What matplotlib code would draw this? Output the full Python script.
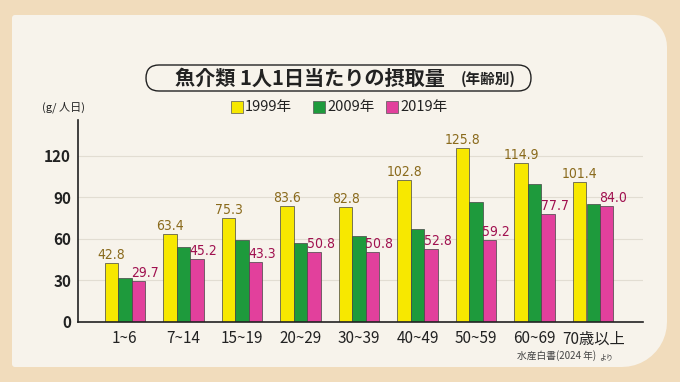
"""
Seafood intake per person per day, by age group.
"""

import numpy as np
import matplotlib
matplotlib.use("Agg")
import matplotlib.pyplot as plt
from matplotlib.patches import FancyBboxPatch, PathPatch, Rectangle
from matplotlib.path import Path

plt.rcParams["font.family"] = ["Noto Sans CJK JP", "DejaVu Sans"]

age_groups = ["1~6", "7~14", "15~19", "20~29", "30~39", "40~49", "50~59", "60~69", "70歳以上"]
intake_1999 = [42.8, 63.4, 75.3, 83.6, 82.8, 102.8, 125.8, 114.9, 101.4]
intake_2009 = [32.0, 54.5, 59.5, 57.3, 62.2, 67.0, 86.5, 100.0, 85.5]
intake_2019 = [29.7, 45.2, 43.3, 50.8, 50.8, 52.8, 59.2, 77.7, 84.0]
series_names = ["1999年", "2009年", "2019年"]
y_ticks = [0, 30, 60, 90, 120]

W, H = 680, 382
OUTER = "#f1dcbc"
PANEL = "#f7f3eb"
YELLOW = "#f7e800"
GREEN = "#1e9a3c"
PINK = "#e2409c"


def rounded_rect_path(x0, y0, x1, y1, radii):
    """Rectangle in pixel coords (y down) with per-corner radii (tl, tr, br, bl)."""
    tl, tr, br, bl = radii
    verts, codes = [], []

    def arc(cx, cy, r, a0, a1):
        for a in np.linspace(np.radians(a0), np.radians(a1), 12):
            verts.append((cx + r * np.cos(a), cy + r * np.sin(a)))
            codes.append(Path.LINETO)

    verts.append((x0 + tl, y0)); codes.append(Path.MOVETO)
    arc(x1 - tr, y0 + tr, tr, -90, 0)
    arc(x1 - br, y1 - br, br, 0, 90)
    arc(x0 + bl, y1 - bl, bl, 90, 180)
    arc(x0 + tl, y0 + tl, tl, 180, 270)
    verts.append((x0 + tl, y0)); codes.append(Path.CLOSEPOLY)
    return Path(verts, codes)


fig = plt.figure(figsize=(W / 100, H / 100), dpi=100)
fig.patch.set_facecolor(OUTER)

# background layer in pixel coordinates
bg = fig.add_axes([0, 0, 1, 1], zorder=0)
bg.set_xlim(0, W); bg.set_ylim(H, 0); bg.axis("off")
bg.add_patch(PathPatch(rounded_rect_path(12, 15, 667, 367, (3, 32, 45, 3)),
                       facecolor=PANEL, edgecolor="none"))

# title pill
bg.add_patch(FancyBboxPatch((146, 65), 385, 26, boxstyle="round,pad=0,rounding_size=13",
                            facecolor=PANEL, edgecolor="#222222", lw=1.0))
bg.text(310, 78, "魚介類 1人1日当たりの摂取量", fontsize=14.5, fontweight="bold",
        ha="center", va="center", color="#222222")
bg.text(488, 79, "(年齢別)", fontsize=10.5, fontweight="bold",
        ha="center", va="center", color="#222222")

# legend
for sx, color, name in zip([231, 313, 386], [YELLOW, GREEN, PINK], series_names):
    bg.add_patch(Rectangle((sx, 101), 12, 12, facecolor=color, edgecolor="#555555", lw=0.5))
    bg.text(sx + 14, 107.5, name, fontsize=10.5, ha="left", va="center", color="#222222")

# unit label and source
bg.text(63, 107, "(g/ 人日)", fontsize=8, ha="center", va="center", color="#222222")
bg.text(517, 356, "水産白書(2024 年)", fontsize=7, ha="left", va="center", color="#444444")
bg.text(599, 357.5, "より", fontsize=5, ha="left", va="center", color="#444444")

# main chart
ax = fig.add_axes([78 / W, 60 / H, (643 - 78) / W, (322 - 120) / H], zorder=1)
ax.patch.set_alpha(0)
x = np.arange(len(age_groups))
bw = 0.23
bars_y = ax.bar(x - bw, intake_1999, bw, color=YELLOW, edgecolor="#444444", lw=0.5)
ax.bar(x, intake_2009, bw, color=GREEN, edgecolor="#444444", lw=0.5)
bars_p = ax.bar(x + bw, intake_2019, bw, color=PINK, edgecolor="#444444", lw=0.5)

for b, v in zip(bars_y, intake_1999):
    ax.text(b.get_x() + b.get_width() / 2, v + 0.8, f"{v:.1f}", ha="center", va="bottom",
            fontsize=10, color="#8a6a1c", family="DejaVu Sans", fontstretch="condensed")
for b, v in zip(bars_p, intake_2019):
    ax.text(b.get_x() - 0.01, v + 0.8, f"{v:.1f}", ha="left", va="bottom",
            fontsize=10, color="#a0104f", family="DejaVu Sans", fontstretch="condensed")

ax.set_xlim(-0.8, 8.85)
ax.set_ylim(0, 146)
ax.set_yticks(y_ticks)
ax.set_yticklabels([str(t) for t in y_ticks], fontsize=11, fontweight="bold", color="#222222")
ax.set_xticks(x)
ax.set_xticklabels(age_groups, fontsize=11, color="#222222")
ax.tick_params(length=0, pad=6)
ax.tick_params(axis="y", pad=5)
for t in y_ticks[1:]:
    ax.axhline(t, color="#e2ddd2", lw=0.8, zorder=0)
for side in ["top", "right"]:
    ax.spines[side].set_visible(False)
for side in ["left", "bottom"]:
    ax.spines[side].set_color("#222222")
    ax.spines[side].set_linewidth(1.2)

fig.savefig("out.png", dpi=100, facecolor=OUTER)
